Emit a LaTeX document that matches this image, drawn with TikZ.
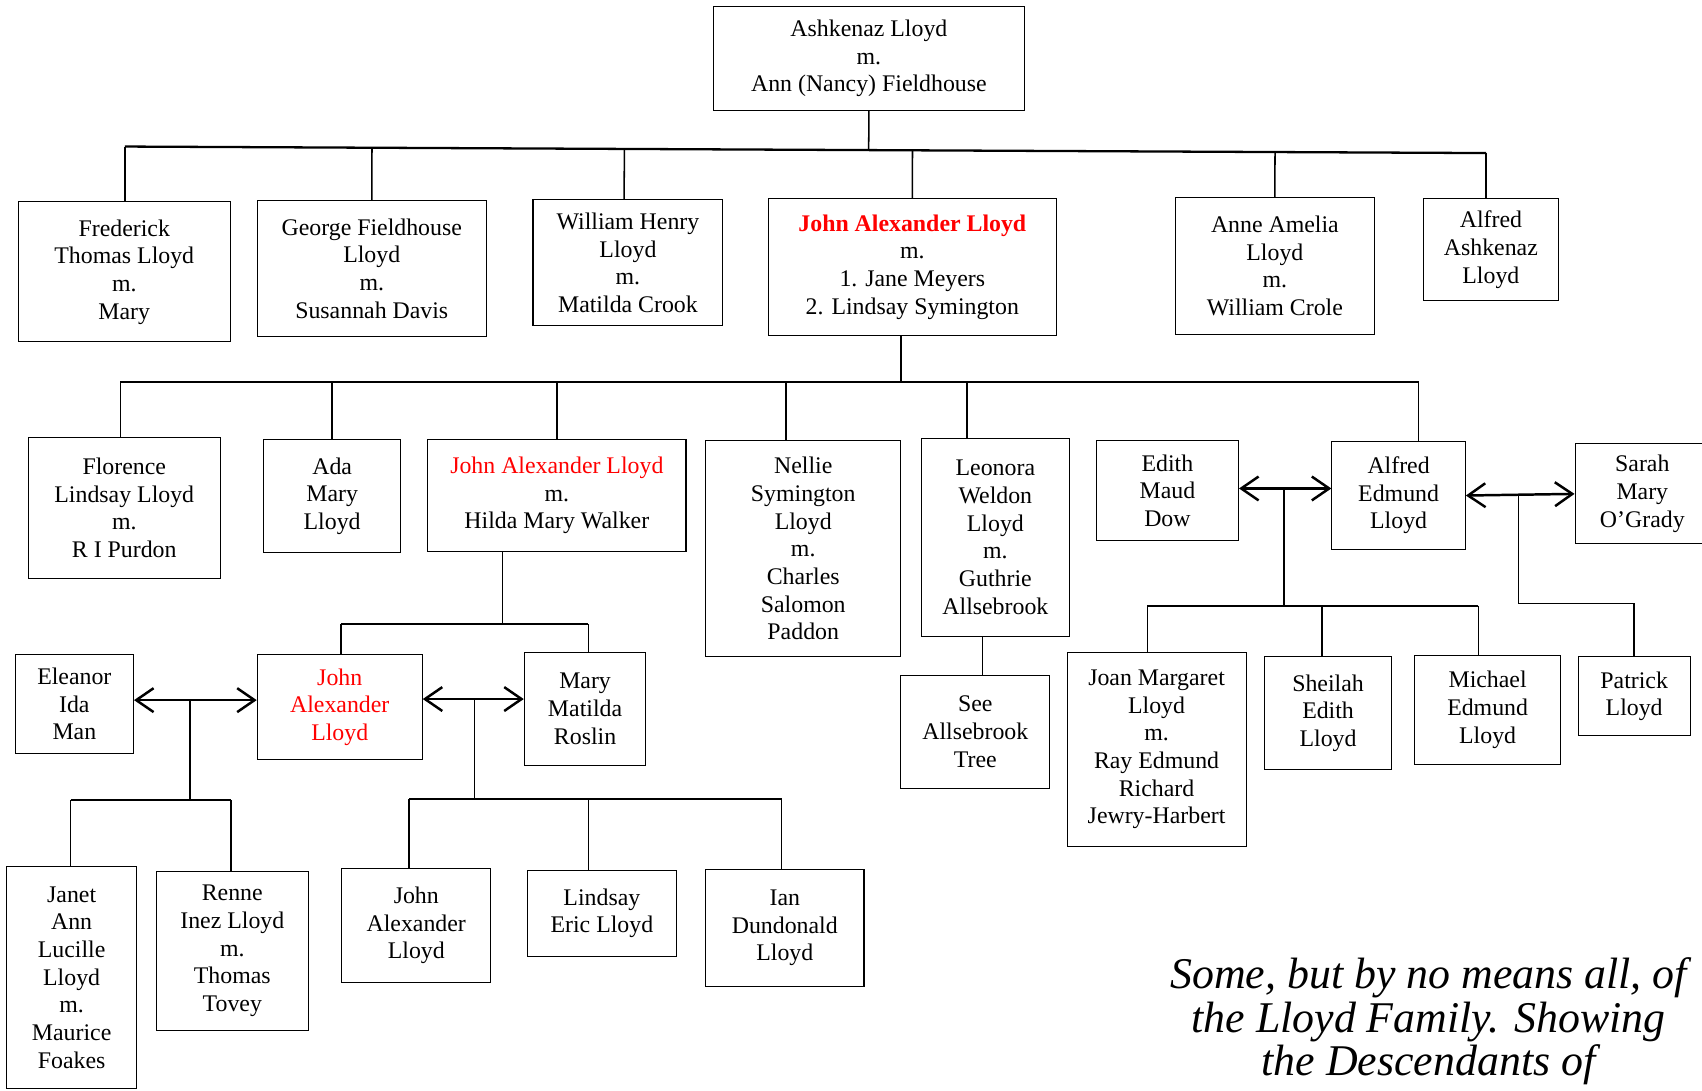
\documentclass[tikz,border=0pt]{standalone}
\usepackage{fontspec}
\setmainfont{Liberation Serif}
\usetikzlibrary{positioning}
\usetikzlibrary{arrows.meta}
\usetikzlibrary{calc}

\begin{document}
\begin{tikzpicture}[x=0.02cm, y=-0.02cm,
    person/.style={draw, line width=0.55pt, align=center, inner sep=0pt,
        font=\fontsize{12.5pt}{14.5pt}\selectfont},
    bus/.style={line width=1.2pt},
    link/.style={line width=0.8pt},
    wed/.style={line width=1.3pt,
        {Straight Barb[length=3.2mm,width=4.4mm]}-{Straight Barb[length=3.2mm,width=4.4mm]}}]
    \useasboundingbox (0,0) rectangle (1568,1005);

    % parents
    \node[person, minimum width=5.74cm, minimum height=1.92cm] (ashk) at (800.5,54) {Ashkenaz Lloyd\\m.\\Ann (Nancy) Fieldhouse};

    % their children
    \node[person, minimum width=3.90cm, minimum height=2.58cm] (fred) at (114.5,250.5) {Frederick\\Thomas Lloyd\\m.\\Mary};
    \node[person, minimum width=4.22cm, minimum height=2.50cm] (george) at (342.5,247.5) {George Fieldhouse\\Lloyd\\m.\\Susannah Davis};
    \node[person, minimum width=3.50cm, minimum height=2.32cm] (william) at (578.5,242) {William Henry\\Lloyd\\m.\\Matilda Crook};
    \node[person, minimum width=5.30cm, minimum height=2.52cm] (johnA) at (840.5,246) {\textcolor{red}{\bfseries John Alexander Lloyd}\\m.\\1. Jane Meyers\\2. Lindsay Symington};
    \node[person, minimum width=3.66cm, minimum height=2.52cm] (anne) at (1174.5,245) {Anne Amelia\\Lloyd\\m.\\William Crole};
    \node[person, minimum width=2.50cm, minimum height=1.88cm] (alfredA) at (1373.5,230) {Alfred\\Ashkenaz\\Lloyd};

    % John's children
    \node[person, minimum width=3.54cm, minimum height=2.60cm] (florence) at (114.5,468) {Florence\\Lindsay Lloyd\\m.\\R I Purdon};
    \node[person, minimum width=2.52cm, minimum height=2.08cm] (ada) at (306,457) {Ada\\Mary\\Lloyd};
    \node[person, minimum width=4.76cm, minimum height=2.06cm] (johnB) at (513,456.5) {\textcolor{red}{John Alexander Lloyd}\\m.\\Hilda Mary Walker};
    \node[person, minimum width=3.60cm, minimum height=3.98cm] (nellie) at (740,505.5) {Nellie\\Symington\\Lloyd\\m.\\Charles\\Salomon\\Paddon};
    \node[person, minimum width=2.72cm, minimum height=3.64cm] (leonora) at (917,495) {Leonora\\Weldon\\Lloyd\\m.\\Guthrie\\Allsebrook};
    \node[person, minimum width=2.62cm, minimum height=1.84cm] (edith) at (1075.5,452) {Edith\\Maud\\Dow};
    \node[person, minimum width=2.46cm, minimum height=1.98cm] (alfredE) at (1288.5,456.5) {Alfred\\Edmund\\Lloyd};
    \node[person, minimum width=2.48cm, minimum height=1.84cm] (sarah) at (1513,455) {Sarah\\Mary\\O’Grady};
    \node[person, minimum width=2.74cm, minimum height=2.08cm] (see) at (898.5,674) {See\\Allsebrook\\Tree};

    % Alfred's children
    \node[person, minimum width=3.30cm, minimum height=3.58cm] (joan) at (1065.5,690.5) {Joan Margaret\\Lloyd\\m.\\Ray Edmund\\Richard\\Jewry-Harbert};
    \node[person, minimum width=2.34cm, minimum height=2.08cm] (sheilah) at (1223.5,657) {Sheilah\\Edith\\Lloyd};
    \node[person, minimum width=2.70cm, minimum height=2.00cm] (michael) at (1370.5,654) {Michael\\Edmund\\Lloyd};
    \node[person, minimum width=2.06cm, minimum height=1.46cm] (patrick) at (1505.5,641.5) {Patrick\\Lloyd};

    % John and Hilda's son
    \node[person, minimum width=2.18cm, minimum height=1.82cm] (eleanor) at (68.5,648.5) {Eleanor\\Ida\\Man};
    \node[person, minimum width=3.04cm, minimum height=1.94cm] (johnC) at (313,651.5) {\textcolor{red}{John}\\\textcolor{red}{Alexander}\\\textcolor{red}{Lloyd}};
    \node[person, minimum width=2.24cm, minimum height=2.08cm] (mary) at (539,653) {Mary\\Matilda\\Roslin};

    % his children
    \node[person, minimum width=2.40cm, minimum height=4.10cm] (janet) at (66,900.5) {Janet\\Ann\\Lucille\\Lloyd\\m.\\Maurice\\Foakes};
    \node[person, minimum width=2.80cm, minimum height=2.92cm] (renne) at (214,876) {Renne\\Inez Lloyd\\m.\\Thomas\\Tovey};
    \node[person, minimum width=2.74cm, minimum height=2.10cm] (johnD) at (383.5,852.5) {John\\Alexander\\Lloyd};
    \node[person, minimum width=2.74cm, minimum height=1.58cm] (lindsay) at (554.5,841.5) {Lindsay\\Eric Lloyd};
    \node[person, minimum width=2.92cm, minimum height=2.16cm] (ian) at (723,855) {Ian\\Dundonald\\Lloyd};

    \node[font=\fontsize{23pt}{22.7pt}\selectfont\itshape, align=center, inner sep=0pt] (title) at (1316,941) {Some, but by no means all, of\\the Lloyd Family. Showing\\the Descendants of};

    % first bus
    \coordinate (t0) at (115,135);
    \coordinate (t1) at (1369,141);
    \draw[bus] (t0) -- (t1);
    \draw[link] (ashk.south) -- ($(t0)!(ashk.south)!(t1)$);
    \draw[link] (t0) -- (t0 |- fred.north);
    \draw[link] (george.north) -- ($(t0)!(george.north)!(t1)$);
    \draw[link] ([xshift=-0.07cm]william.north) -- ($(t0)!([xshift=-0.07cm]william.north)!(t1)$);
    \draw[link] (johnA.north) -- ($(t0)!(johnA.north)!(t1)$);
    \draw[link] (anne.north) -- ($(t0)!(anne.north)!(t1)$);
    \draw[link] (t1) -- (t1 |- alfredA.north);

    % second bus
    \coordinate (u0) at (111,352);
    \coordinate (u1) at (1307,352);
    \coordinate (ud) at (830,352);
    \coordinate (un) at (724,352);
    \coordinate (ul) at (891,352);
    \draw[bus] (u0) -- (u1);
    \draw[link] (ud |- johnA.south) -- (ud);
    \draw[link] (u0) -- (u0 |- florence.north);
    \draw[link] (ada.north |- u0) -- (ada.north);
    \draw[link] (johnB.north |- u0) -- (johnB.north);
    \draw[link] (un) -- (un |- nellie.north);
    \draw[link] (ul) -- (ul |- leonora.north);
    \draw[link] (u1) -- (u1 |- alfredE.north);

    \coordinate (s0) at (905,586);
    \draw[link] (s0) -- (s0 |- see.north);

    % John and Hilda
    \coordinate (h0) at (314,575);
    \coordinate (h1) at (542,575);
    \coordinate (hd) at (463,575);
    \draw[link] (hd |- johnB.south) -- (hd);
    \draw[bus] (h0) -- (h1);
    \draw[link] (h0) -- (h0 |- johnC.north);
    \draw[link] (h1) -- (h1 |- mary.north);

    % marriages
    \coordinate (m1) at (175,645);
    \coordinate (m2) at (437,644);
    \coordinate (m3) at (1183,450);
    \coordinate (m4) at (1399,456);
    \draw[wed] (eleanor.east |- m1) -- (johnC.west |- m1);
    \draw[wed] (johnC.east |- m2) -- (mary.west |- m2);
    \draw[wed] (edith.east |- m3) -- (alfredE.west |- m3);
    \draw[wed] (alfredE.east) -- (sarah.west);

    % children of the marriages
    \coordinate (e0) at (65,737);
    \coordinate (e1) at (213,737);
    \draw[link] (m1) -- (m1 |- e0);
    \draw[bus] (e0) -- (e1);
    \draw[link] (e0) -- (e0 |- janet.north);
    \draw[link] (e1) -- (e1 |- renne.north);

    \coordinate (r0) at (377,736);
    \coordinate (r1) at (542,736);
    \coordinate (r2) at (720,736);
    \draw[link] (m2) -- (m2 |- r0);
    \draw[bus] (r0) -- (r2);
    \draw[link] (r0) -- (r0 |- johnD.north);
    \draw[link] (r1) -- (r1 |- lindsay.north);
    \draw[link] (r2) -- (r2 |- ian.north);

    \coordinate (a0) at (1057,558);
    \coordinate (a1) at (1218,558);
    \coordinate (a2) at (1362,558);
    \draw[link] (m3) -- (m3 |- a0);
    \draw[bus] (a0) -- (a2);
    \draw[link] (a0) -- (a0 |- joan.north);
    \draw[link] (a1) -- (a1 |- sheilah.north);
    \draw[link] (a2) -- (a2 |- michael.north);

    \coordinate (p0) at (1399,556);
    \draw[link] (m4) -- (p0) -| (patrick.north);
\end{tikzpicture}
\end{document}
